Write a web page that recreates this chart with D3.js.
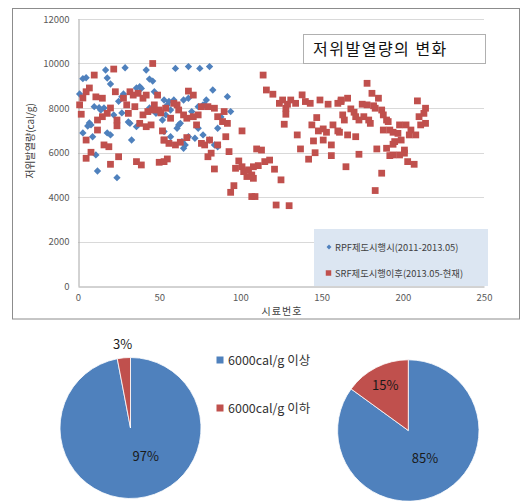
<!DOCTYPE html>
<html>
<head>
<meta charset="utf-8">
<script src="https://cdn.jsdelivr.net/npm/d3@7"></script>
<style>
  html, body { margin: 0; padding: 0; background: #fff; }
  svg { display: block; }
  text { font-family: "Noto Sans CJK KR", "Noto Sans", sans-serif; }
</style>
</head>
<body>
<svg id="chart" width="522" height="501"></svg>
<script>
// ---- data ----
const chartTitle = "저위발열량의 변화";
const xTitle = "시료번호";
const yTitle = "저위발열량(cal/g)";
const seriesNames = ["RPF제도시행시(2011-2013.05)", "SRF제도시행이후(2013.05-현재)"];
const xTicks = [0, 50, 100, 150, 200, 250];
const yTicks = [0, 2000, 4000, 6000, 8000, 10000, 12000];

// RPF period samples: [sample no., cal/g]
const rpfPoints = [
  [17,9710],[29,9810],[42,9710],[3,9320],[5,9360],[18,9350],[20,9080],[46,9210],[44,9300],[38,8960],
  [36,8900],[1,8630],[28,8630],[10,8060],[13,8010],[16,8000],[27,7780],[22,7690],[44,8000],[7,7330],
  [8,7240],[31,7370],[3,6880],[18,6880],[20,6790],[9,6710],[33,6560],[36,7160],[11,5890],[12,5170],
  [24,4870],[48,7760],[55,8140],[47,8730],[27,8510],[39,8880],[14,7910],[6,7190],[32,7310],[25,8300],
  [60,9780],[68,9860],[75,9780],[81,9860],[83,8810],[92,8510],[53,8360],[56,8290],[59,8360],[65,8360],
  [68,8440],[79,8360],[78,8140],[57,7910],[54,7690],[74,8060],[77,8140],[94,7840],[62,7240],[63,7310],
  [61,7090],[74,7090],[86,7090],[53,6940],[57,6710],[68,6710],[72,6640],[77,6790],[64,6490],[66,6340],
  [65,6190],[81,6560],[84,6340],[86,6260],[52,7460],[70,7840],[88,7600]
];

// SRF period samples: [sample no., cal/g]
const srfPoints = [
  [22,9750],[46,10000],[10,9480],[7,8900],[5,8730],[3,8450],[1,8140],[11,8500],[15,8440],[23,8730],
  [28,8440],[32,8730],[34,8580],[37,8660],[40,8440],[42,8580],[49,8580],[30,8140],[35,8060],[20,8000],
  [2,7720],[18,7760],[15,7610],[12,7460],[24,7460],[31,7760],[40,7690],[43,7840],[46,7910],[47,8140],
  [50,7910],[51,7780],[38,7310],[42,7160],[45,7240],[24,7200],[12,7010],[5,6560],[16,6340],[19,6260],
  [52,6970],[53,6560],[8,6010],[5,5740],[25,5810],[20,5470],[36,5590],[39,5440],[50,5560],[53,5590],
  [68,8760],[71,8580],[54,7990],[59,8210],[61,8140],[62,7910],[65,7690],[67,7540],[71,7610],[74,7690],
  [73,7240],[76,8060],[80,8060],[84,7990],[86,7610],[90,7840],[89,7390],[92,7310],[57,7540],[101,6970],
  [91,6710],[53,6560],[56,6410],[60,6340],[63,6460],[67,6670],[76,6410],[78,6340],[81,6560],[82,5970],
  [80,5810],[86,6340],[93,6040],[55,5710],[84,5260],[99,5620],[97,5290],[101,5360],[102,5140],[105,5220],
  [107,4990],[104,4920],[96,4510],[94,4210],[107,4020],
  [114,9480],[116,8810],[120,8620],[124,8210],[126,8360],[128,7990],[129,8170],[131,8360],[134,8210],[138,8590],
  [140,8290],[143,8210],[149,8360],[154,8170],[160,8210],[162,8290],[128,7720],[127,7270],[147,7570],[144,7240],
  [135,6790],[148,6970],[151,7060],[153,6910],[157,7240],[160,6970],[145,6520],[151,6560],[156,6340],[137,6160],
  [146,5990],[142,5700],[156,5860],[110,6160],[113,6110],[118,5660],[115,5590],[111,5410],[108,5360],[121,5250],
  [108,4840],[125,4770],[109,4020],[122,3640],[130,3610],
  [178,9110],[181,8660],[185,8440],[162,8360],[166,8440],[209,8320],[175,8170],[178,8140],[182,8100],[183,7990],
  [168,7960],[170,7810],[171,7610],[173,7460],[163,7690],[164,7460],[176,7610],[179,7460],[180,7310],[187,7910],
  [188,7690],[190,7460],[191,7390],[214,7990],[213,7760],[210,7610],[214,7310],[211,7240],[198,7240],[202,7240],
  [205,7010],[208,6790],[204,6790],[188,7010],[192,7010],[194,6910],[197,6860],[161,6910],[166,6790],[171,6710],
  [195,6490],[199,6560],[194,6370],[184,6160],[190,6190],[201,6110],[201,5970],[198,5890],[194,5890],[192,5860],
  [203,5590],[207,5470],[173,5920],[165,5360],[187,5070],[183,4290]
];

// share of samples above / below 6000 cal/g
const shareNames = ["6000cal/g 이상", "6000cal/g 이하"];
const rpfShare = [97, 3];
const srfShare = [85, 15];

// ---- style ----
const BLUE = "#4f81bd", RED = "#c0504d";
const svg = d3.select("#chart");

// chart frame
svg.append("rect").attr("x", 12.5).attr("y", 8.5).attr("width", 507).attr("height", 310.5)
  .attr("fill", "#fff").attr("stroke", "#8c8c8c").attr("stroke-width", 1);

const plot = { left: 78, right: 484, top: 19, bottom: 286 };
const x = d3.scaleLinear().domain([0, 250]).range([plot.left, plot.right]);
const y = d3.scaleLinear().domain([0, 12000]).range([plot.bottom, plot.top]);

// gridlines
svg.append("g").selectAll("line").data(yTicks.filter(d => d > 0)).join("line")
  .attr("x1", plot.left).attr("x2", plot.right)
  .attr("y1", d => Math.round(y(d)) + 0.5).attr("y2", d => Math.round(y(d)) + 0.5)
  .attr("stroke", "#d9d9d9").attr("stroke-width", 1);

// axes
const yAxis = d3.axisLeft(y).tickValues(yTicks).tickFormat(d3.format("d")).tickSize(0).tickPadding(9);
const xAxis = d3.axisBottom(x).tickValues(xTicks).tickFormat(d3.format("d")).tickSize(0).tickPadding(8);
const gy = svg.append("g").attr("transform", `translate(${plot.left + 0.5},0)`).call(yAxis);
const gx = svg.append("g").attr("transform", `translate(0,${plot.bottom + 0.5})`).call(xAxis);
[gx, gy].forEach(g => {
  g.select(".domain").attr("stroke", "#a6a6a6");
  g.selectAll("text").attr("fill", "#595959").attr("font-size", 9.5)
    .attr("font-family", "'Open Sans', 'Noto Sans', sans-serif");
});

// axis titles
svg.append("text").attr("x", 282).attr("y", 315).attr("text-anchor", "middle")
  .attr("font-size", 10).attr("letter-spacing", 1).attr("fill", "#404040").text(xTitle);
svg.append("text").attr("transform", "translate(34,141) rotate(-90)").attr("text-anchor", "middle")
  .attr("font-size", 10).attr("fill", "#404040").text(yTitle);

// markers
const diamond = d3.symbol().type(d3.symbolSquare).size(27);
const square = d3.symbol().type(d3.symbolSquare).size(46);
svg.append("g").selectAll("path").data(rpfPoints).join("path")
  .attr("d", diamond)
  .attr("transform", d => `translate(${x(d[0])},${y(d[1])}) rotate(45)`)
  .attr("fill", BLUE);
svg.append("g").selectAll("path").data(srfPoints).join("path")
  .attr("d", square)
  .attr("transform", d => `translate(${x(d[0])},${y(d[1])})`)
  .attr("fill", RED);

// title box
svg.append("rect").attr("x", 303.5).attr("y", 34.5).attr("width", 182).attr("height", 29)
  .attr("fill", "#fff").attr("stroke", "#b0b0b0");
svg.append("text").attr("x", 313).attr("y", 55).attr("font-size", 16).attr("letter-spacing", 1.5)
  .attr("fill", "#111").text(chartTitle);

// series legend
const lg = svg.append("g");
lg.append("rect").attr("x", 314).attr("y", 229).attr("width", 174).attr("height", 57).attr("fill", "#dce6f2");
lg.append("path").attr("d", d3.symbol().type(d3.symbolSquare).size(12))
  .attr("transform", "translate(329,247) rotate(45)").attr("fill", BLUE);
lg.append("path").attr("d", d3.symbol().type(d3.symbolSquare).size(30))
  .attr("transform", "translate(328.5,273)").attr("fill", RED);
seriesNames.forEach((n, i) => {
  lg.append("text").attr("x", 335).attr("y", 250.5 + i * 26).attr("font-size", 9.3)
    .attr("fill", "#404040").text(n);
});

// ---- pies ----
const pie = d3.pie().sort(null).value(d => d);
const pies = [
  { values: rpfShare, cx: 130.5, cy: 428, r: 70.5,
    labels: [{ a: 152, k: 0.46 }, { a: null, k: 1.19 }] },
  { values: srfShare, cx: 408.3, cy: 430.5, r: 70.7,
    labels: [{ a: 149, k: 0.46 }, { a: null, k: 0.72 }] }
];
pies.forEach(p => {
  const g = svg.append("g").attr("transform", `translate(${p.cx},${p.cy})`);
  const arcs = pie(p.values);
  const arc = d3.arc().innerRadius(0).outerRadius(p.r);
  g.selectAll("path").data(arcs).join("path")
    .attr("d", arc)
    .attr("fill", (d, i) => i === 0 ? BLUE : RED)
    .attr("stroke", "#fff").attr("stroke-width", 0.8);
  g.selectAll("text").data(arcs).join("text")
    .attr("transform", (d, i) => {
      const L = p.labels[i];
      const ang = L.a === null ? (d.startAngle + d.endAngle) / 2 : L.a * Math.PI / 180;
      const rr = p.r * L.k;
      return `translate(${rr * Math.sin(ang)},${-rr * Math.cos(ang)})`;
    })
    .attr("text-anchor", "middle").attr("dy", "0.35em")
    .attr("font-size", 13).attr("fill", "#1a1a1a")
    .attr("font-family", "'Open Sans', 'Noto Sans', sans-serif")
    .text(d => d.data + "%");
});

// pie legend
shareNames.forEach((n, i) => {
  const yy = 360 + i * 48;
  svg.append("rect").attr("x", 216.5).attr("y", yy - 3.5).attr("width", 7).attr("height", 7)
    .attr("fill", i === 0 ? BLUE : RED);
  svg.append("text").attr("x", 228).attr("y", yy + 5).attr("font-size", 12.5)
    .attr("fill", "#333").text(n);
});
</script>
</body>
</html>
